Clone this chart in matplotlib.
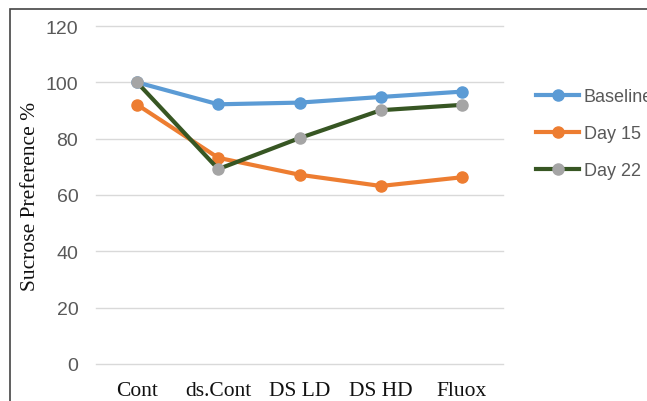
import matplotlib
matplotlib.use("Agg")
import matplotlib.pyplot as plt
from matplotlib.patches import Rectangle
from matplotlib.lines import Line2D

categories = ["Cont", "ds.Cont", "DS LD", "DS HD", "Fluox"]
baseline = [100, 92.2, 92.8, 94.8, 96.7]
day15 = [92.1, 73.2, 67.2, 63.2, 66.3]
day22 = [100, 69.2, 80.2, 90.1, 92.0]
yticks = [0, 20, 40, 60, 80, 100, 120]

sans = ["Liberation Sans", "DejaVu Sans"]
serif = ["Liberation Serif", "DejaVu Serif"]

fig = plt.figure(figsize=(6.47, 4.02), dpi=100)
ax = fig.add_axes([96.4/647, 1-365/402, (502.6-96.4)/647, (365-27)/402])

x = list(range(len(categories)))
lw = 3.0
ms = 8
ax.plot(x, baseline, color="#5B9BD5", lw=lw, marker="o", ms=ms, mfc="#5B9BD5", mec="#5B9BD5", zorder=3, solid_capstyle="round")
ax.plot(x, day15, color="#ED7D31", lw=lw, marker="o", ms=ms, mfc="#ED7D31", mec="#ED7D31", zorder=3, solid_capstyle="round")
ax.plot(x, day22, color="#375623", lw=lw, marker="o", ms=ms, mfc="#A5A5A5", mec="#A5A5A5", zorder=4, solid_capstyle="round")

ax.set_xlim(-0.5, 4.5)
ax.set_ylim(0, 120)
ax.set_yticks(yticks)
ax.set_xticks(x)
ax.set_xticklabels(categories, fontfamily=serif, fontsize=15.5, color="#111111")
ax.set_yticklabels([str(v) for v in yticks], fontfamily=sans, fontsize=14, color="#595959")
ax.tick_params(axis="y", length=0, pad=13)
ax.tick_params(axis="x", length=0, pad=12)
for s in ax.spines.values():
    s.set_visible(False)
ax.grid(axis="y", color="#D9D9D9", lw=1.0)
ax.set_axisbelow(True)
for gl in ax.get_ygridlines():
    gl.set_clip_on(False)

fig.text(31/647, 1-196/402, "Sucrose Preference %", rotation=90, ha="center", va="center",
         fontfamily=serif, fontsize=15.5, color="#111111")

handles = [
    Line2D([], [], color="#5B9BD5", lw=lw, marker="o", ms=ms, mfc="#5B9BD5", mec="#5B9BD5"),
    Line2D([], [], color="#ED7D31", lw=lw, marker="o", ms=ms, mfc="#ED7D31", mec="#ED7D31"),
    Line2D([], [], color="#375623", lw=lw, marker="o", ms=ms, mfc="#A5A5A5", mec="#A5A5A5"),
]
leg = fig.legend(handles, ["Baseline", "Day 15", "Day 22"], loc="upper left",
                 bbox_to_anchor=(536/647, 1-89/402), bbox_transform=fig.transFigure,
                 frameon=False, borderpad=0, borderaxespad=0, handlelength=2.4,
                 handletextpad=0.25, labelspacing=1.12, prop={"family": sans, "size": 13})
for t in leg.get_texts():
    t.set_color("#595959")

fig.patches.append(Rectangle((10/647, -0.1), 1.2, 1-10/402+0.1, transform=fig.transFigure,
                             fill=False, ec="#444444", lw=1.2))

fig.savefig("out.png", dpi=100)
